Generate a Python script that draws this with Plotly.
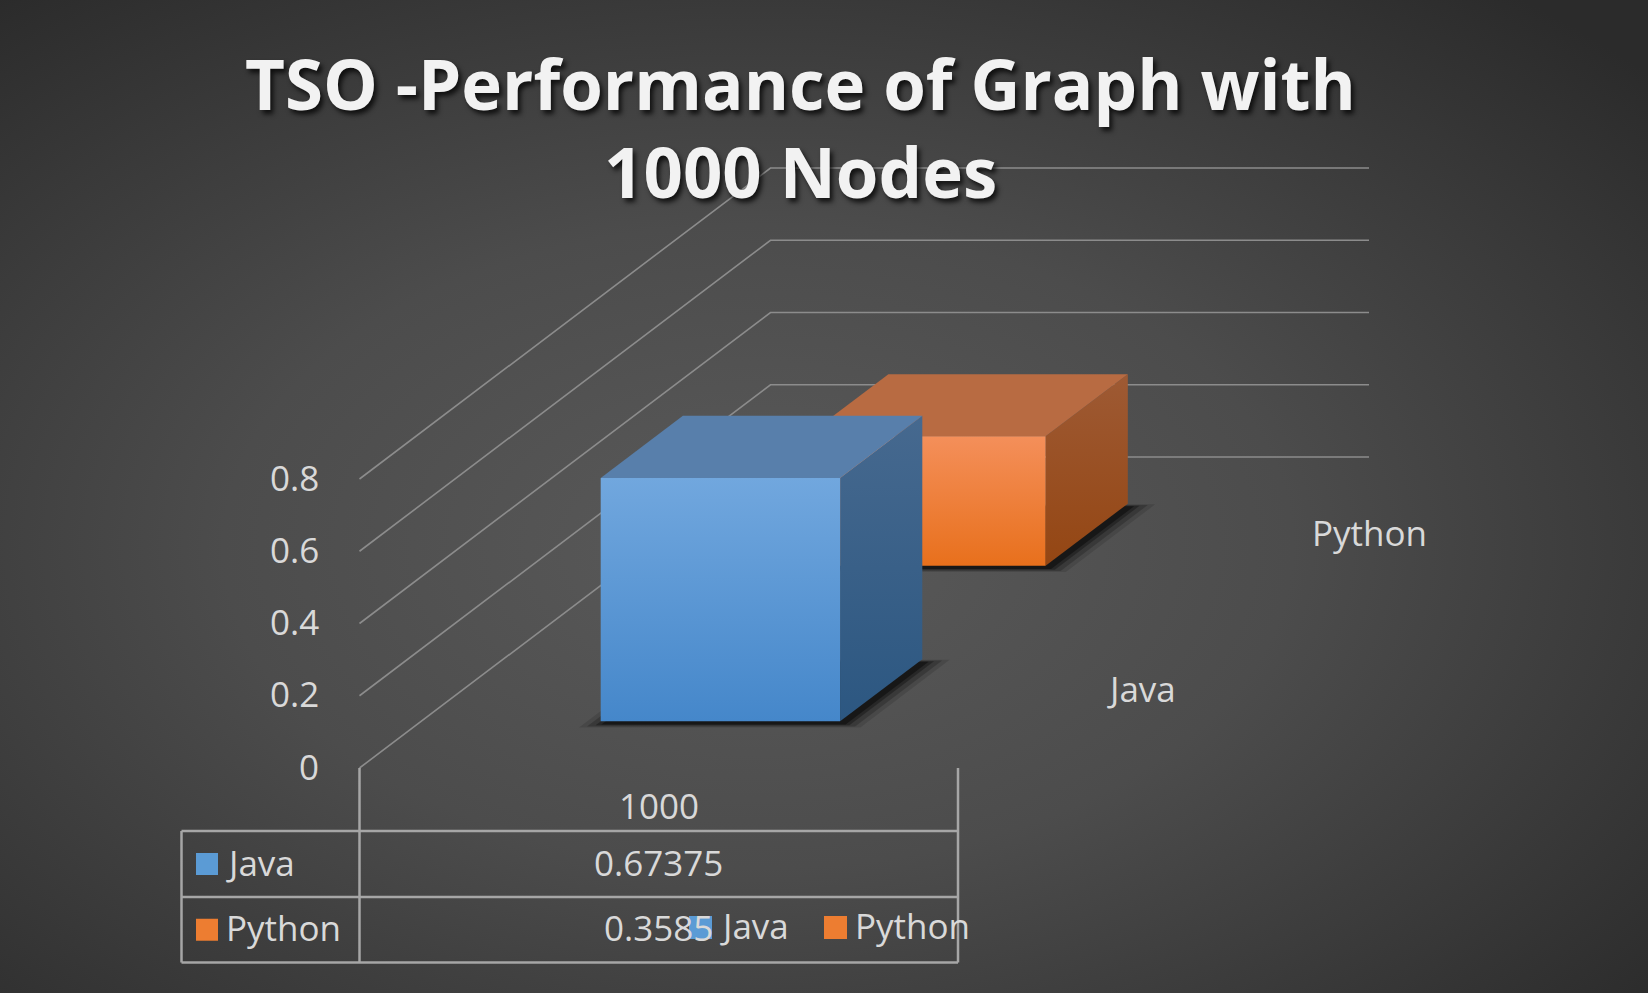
import base64
import plotly.graph_objects as go

# ---------------- data ----------------
TITLE = "TSO -Performance of Graph with<br>1000 Nodes"
categories = ["1000"]
series_names = ["Java", "Python"]
java_values = [0.67375]
python_values = [0.3585]
value_ticks = [0, 0.2, 0.4, 0.6, 0.8]
value_tick_labels = ["0", "0.2", "0.4", "0.6", "0.8"]
table_value_labels = [["0.67375"], ["0.3585"]]

# ---------------- styling / geometry ----------------
W, H = 1648, 993
ORIGIN_PX = (359.5, 768.0)      # pixel of (category 0, value 0, depth 0)
CAT_PX = 598.5                  # pixels per category unit
VAL_PX = 361.25                 # pixels per value unit
DEPTH_PX = (411.0, -311.0)      # pixel vector of full depth
DX = DEPTH_PX[0] / CAT_PX
DY = -DEPTH_PX[1] / VAL_PX

BAR_W = 0.4      # fraction of category width
BAR_D = 0.2      # fraction of total depth

FONT = "Open Sans"
FS = 35
TXT = "#d9d9d9"
GRID = "#8c8c8c"
TABLE_LINE = "#a6a6a6"

COLORS = {
    "Java": dict(front=("#4587ca", "#71a7de"), top="#587fab",
                 side=("#2c5781", "#46698f"), key="#5b9bd5"),
    "Python": dict(front=("#e8701c", "#f48f5a"), top="#b86b42",
                   side=("#944613", "#9e5a34"), key="#ed7d31"),
}


def P(u, v, d):
    """oblique projection of (category, value, depth) into axis units"""
    return u + d * DX, v + d * DY


fig = go.Figure()


def poly(pts, fill, name, grad=None, opacity=1.0):
    xs = [p[0] for p in pts] + [pts[0][0]]
    ys = [p[1] for p in pts] + [pts[0][1]]
    kw = dict(x=xs, y=ys, mode="lines", fill="toself", line=dict(width=0),
              hoverinfo="skip", showlegend=False, name=name, opacity=opacity)
    if grad:
        kw["fillgradient"] = dict(type="vertical",
                                  colorscale=[[0, grad[0]], [1, grad[1]]])
        kw["fillcolor"] = grad[1]
    else:
        kw["fillcolor"] = fill
    fig.add_trace(go.Scatter(**kw))


# gridlines: front-left -> back wall -> right
for v in value_ticks:
    a = P(0, v, 0)
    b = P(0, v, 1)
    c = P(1, v, 1)
    fig.add_trace(go.Scatter(x=[a[0], b[0], c[0]], y=[a[1], b[1], c[1]],
                             mode="lines", line=dict(color=GRID, width=1.6),
                             hoverinfo="skip", showlegend=False))

# bars (back series first)
n_series = len(series_names)
all_values = [java_values, python_values]
order = list(range(n_series))[::-1]
for si in order:
    name = series_names[si]
    col = COLORS[name]
    for ci, cat in enumerate(categories):
        val = all_values[si][ci]
        u0 = ci + (1 - BAR_W) / 2
        u1 = u0 + BAR_W
        row_c = (si + 0.5) / n_series
        d0 = row_c - BAR_D / 2
        d1 = row_c + BAR_D / 2
        # soft shadow on the floor
        for grow, op in [(0.035, 0.12), (0.024, 0.2), (0.012, 0.3), (0.004, 0.4)]:
            sh = [P(u0 - grow, 0, d0 - grow * 0.3), P(u1 + grow, 0, d0 - grow * 0.3),
                  P(u1 + grow, 0, d1 + grow * 0.2), P(u0 - grow, 0, d1 + grow * 0.2)]
            sh = [(x + 0.006, y - 0.008) for x, y in sh]
            poly(sh, "rgba(0,0,0,%.2f)" % op, name)
        front = [P(u0, 0, d0), P(u1, 0, d0), P(u1, val, d0), P(u0, val, d0)]
        top = [P(u0, val, d0), P(u1, val, d0), P(u1, val, d1), P(u0, val, d1)]
        side = [P(u1, 0, d0), P(u1, 0, d1), P(u1, val, d1), P(u1, val, d0)]
        poly(side, None, name, grad=col["side"])
        poly(top, col["top"], name)
        poly(front, None, name, grad=col["front"])

# table grid
LEFT_U = (181.5 - ORIGIN_PX[0]) / CAT_PX
ROW_V = [(ORIGIN_PX[1] - py) / VAL_PX for py in (831.0, 897.0, 962.5)]
shapes = []
ln = dict(color=TABLE_LINE, width=2.5)
for u in range(len(categories) + 1):
    shapes.append(dict(type="line", xref="x", yref="y", x0=u, x1=u,
                       y0=0, y1=ROW_V[-1], line=ln))
shapes.append(dict(type="line", xref="x", yref="y", x0=LEFT_U, x1=LEFT_U,
                   y0=ROW_V[0], y1=ROW_V[-1], line=ln))
for v in ROW_V:
    shapes.append(dict(type="line", xref="x", yref="y", x0=LEFT_U,
                       x1=len(categories), y0=v, y1=v, line=ln))

ann = []
# value tick labels
for v, lab in zip(value_ticks, value_tick_labels):
    ann.append(dict(x=(321 - ORIGIN_PX[0]) / CAT_PX, y=v, text=lab,
                    xanchor="right", yanchor="middle"))
# category labels
for ci, cat in enumerate(categories):
    ann.append(dict(x=ci + 0.5, y=(ORIGIN_PX[1] - 807) / VAL_PX, text=cat,
                    xanchor="center", yanchor="middle"))
# depth (series) labels
for si, name in enumerate(series_names):
    row_c = (si + 0.5) / n_series
    px, py = P(len(categories), 0, row_c)
    ann.append(dict(x=px + 44 / CAT_PX, y=py, text=name,
                    xanchor="left", yanchor="middle"))
# table rows
for si, name in enumerate(series_names):
    vc = (ROW_V[si] + ROW_V[si + 1]) / 2
    ann.append(dict(x=LEFT_U + 42 / CAT_PX, y=vc, text=name,
                    xanchor="left", yanchor="middle"))
    for ci in range(len(categories)):
        ann.append(dict(x=ci + 0.5, y=vc, text=table_value_labels[si][ci],
                        xanchor="center", yanchor="middle"))
    fig.add_trace(go.Scatter(x=[LEFT_U + 25.5 / CAT_PX], y=[vc], mode="markers",
                             marker=dict(symbol="square", size=22,
                                         color=COLORS[name]["key"], line=dict(width=0)),
                             hoverinfo="skip", showlegend=False))

# legend (overlapping the table, as in the original)
LEG_V = (ORIGIN_PX[1] - 927.5) / VAL_PX
leg_keys_px = [700.5, 835.5]
for si, name in enumerate(series_names):
    ku = (leg_keys_px[si] - ORIGIN_PX[0]) / CAT_PX
    fig.add_trace(go.Scatter(x=[ku], y=[LEG_V], mode="markers",
                             marker=dict(symbol="square", size=23,
                                         color=COLORS[name]["key"], line=dict(width=0)),
                             hoverinfo="skip", showlegend=False))
    ann.append(dict(x=ku + 17 / CAT_PX, y=LEG_V, text=name,
                    xanchor="left", yanchor="middle"))

annotations = []
for a in ann:
    a.update(xref="x", yref="y", showarrow=False, yshift=2,
             font=dict(family=FONT, size=FS, color=TXT))
    annotations.append(a)

# title lines
title_lines = TITLE.split("<br>")
title_y_px = [83, 171]
for line, ypx in zip(title_lines, title_y_px):
    annotations.append(dict(xref="paper", yref="paper", x=800 / W, y=1 - ypx / H,
                            text="<b>%s</b>" % line, showarrow=False,
                            xanchor="center", yanchor="middle",
                            font=dict(family=FONT, size=69, color="#f2f2f2",
                                      shadow="3px 4px 5px rgba(0,0,0,0.75)")))

svg = ("<svg xmlns='http://www.w3.org/2000/svg' width='%d' height='%d'>"
       "<defs><radialGradient id='g' cx='0.46' cy='0.55' r='0.72'>"
       "<stop offset='0' stop-color='#5a5a5a'/>"
       "<stop offset='0.45' stop-color='#4c4c4c'/>"
       "<stop offset='1' stop-color='#2b2b2b'/></radialGradient></defs>"
       "<rect width='100%%' height='100%%' fill='url(#g)'/></svg>") % (W, H)
bg_uri = "data:image/svg+xml;base64," + base64.b64encode(svg.encode()).decode()

fig.update_layout(
    width=W, height=H,
    margin=dict(l=0, r=0, t=0, b=0),
    paper_bgcolor="#404040", plot_bgcolor="rgba(0,0,0,0)",
    xaxis=dict(range=[-ORIGIN_PX[0] / CAT_PX, (W - ORIGIN_PX[0]) / CAT_PX],
               visible=False, fixedrange=True),
    yaxis=dict(range=[-(H - ORIGIN_PX[1]) / VAL_PX, ORIGIN_PX[1] / VAL_PX],
               visible=False, fixedrange=True),
    shapes=shapes,
    annotations=annotations,
    images=[dict(source=bg_uri, xref="paper", yref="paper", x=0, y=1,
                 sizex=1, sizey=1, sizing="stretch", xanchor="left",
                 yanchor="top", layer="below")],
    showlegend=False,
)

fig.write_html("out.html")
